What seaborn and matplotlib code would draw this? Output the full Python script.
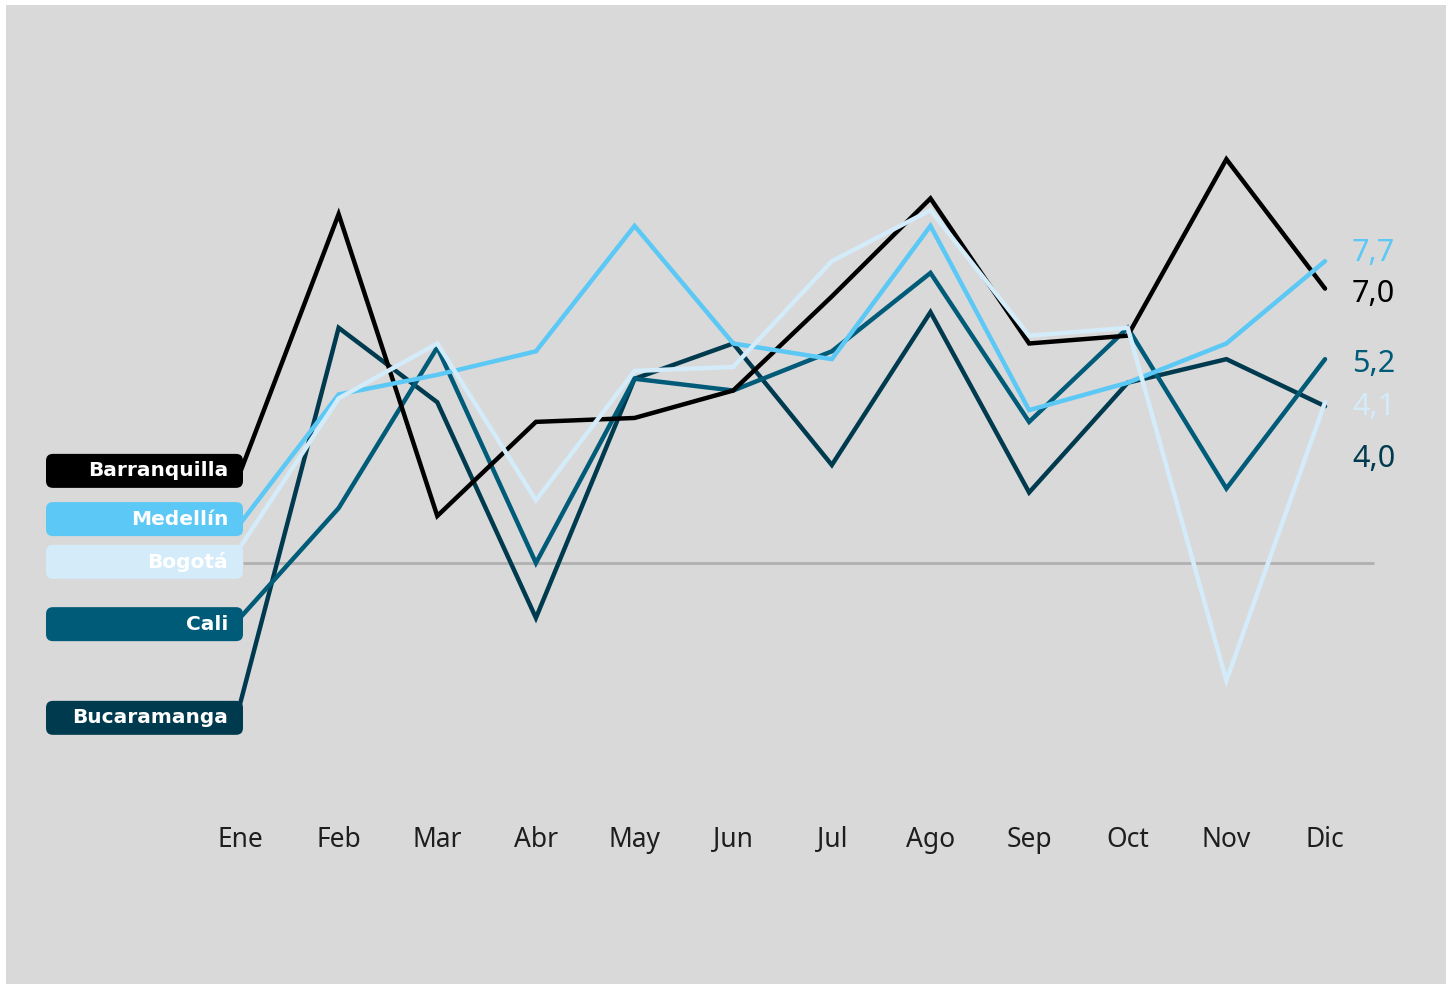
import numpy as np
import pandas as pd
import seaborn as sns
import matplotlib.pyplot as plt
from matplotlib.patches import FancyBboxPatch, Rectangle

# datos
meses = ["Ene", "Feb", "Mar", "Abr", "May", "Jun", "Jul", "Ago", "Sep", "Oct", "Nov", "Dic"]
barranquilla = [2.3, 8.9, 1.2, 3.6, 3.7, 4.4, 6.8, 9.3, 5.6, 5.8, 10.3, 7.0]
medellin = [1.0, 4.3, 4.8, 5.4, 8.6, 5.6, 5.2, 8.6, 3.9, 4.6, 5.6, 7.7]
bogota = [0.4, 4.2, 5.6, 1.6, 4.9, 5.0, 7.7, 9.0, 5.8, 6.0, -3.0, 4.1]
cali = [-1.4, 1.4, 5.5, 0.0, 4.7, 4.4, 5.4, 7.4, 3.6, 6.0, 1.9, 5.2]
bucaramanga = [-3.6, 6.0, 4.1, -1.4, 4.7, 5.6, 2.5, 6.4, 1.8, 4.6, 5.2, 4.0]

ciudades = ["Barranquilla", "Medellín", "Bogotá", "Cali", "Bucaramanga"]
valores = [barranquilla, medellin, bogota, cali, bucaramanga]
colores = {"Barranquilla": "#000000", "Medellín": "#5bc8f5", "Bogotá": "#d4ebfa",
           "Cali": "#005b78", "Bucaramanga": "#003a4f"}
orden = ["Bucaramanga", "Cali", "Barranquilla", "Medellín", "Bogotá"]

# posiciones de etiquetas (solo layout)
caja_y = {"Barranquilla": 2.35, "Medellín": 1.12, "Bogotá": 0.03, "Cali": -1.56, "Bucaramanga": -3.95}
final_y = {"Medellín": 7.9, "Barranquilla": 6.86, "Cali": 5.07, "Bogotá": 3.98, "Bucaramanga": 2.65}

df = pd.DataFrame({
    "mes": np.tile(np.arange(len(meses)), len(ciudades)),
    "valor": np.concatenate(valores),
    "ciudad": np.repeat(ciudades, len(meses)),
})

sns.set_style("white")
plt.rcParams["font.family"] = ["Noto Sans", "DejaVu Sans"]

W, H = 1450, 986
fig = plt.figure(figsize=(W / 100, H / 100), dpi=100, facecolor="white")
fondo = Rectangle((6 / W, 2 / H), 1440 / W, 979 / H, transform=fig.transFigure,
                  facecolor="#d9d9d9", edgecolor="none", zorder=-10)
fig.patches.append(fondo)

# ejes en pixeles: izq 6, der 1446, arriba 5, abajo 815
ax = fig.add_axes([6 / W, (H - 815) / H, 1440 / W, 810 / H])
ax.set_facecolor("none")
ax.set_zorder(1)
sx, sy = 98.64, 39.2
ax.set_xlim((6 - 240) / sx, (1446 - 240) / sx)
ax.set_ylim((563 - 815) / sy, (563 - 5) / sy)

ax.hlines(0, 0.03, 11.5, color="#b0b0b0", lw=2, zorder=1)

sns.lineplot(data=df, x="mes", y="valor", hue="ciudad", hue_order=orden,
             palette=colores, lw=3.2, legend=False, ax=ax, zorder=3,
             solid_capstyle="round", solid_joinstyle="miter")

# cajas con nombres
x0, x1 = (46 - 240) / sx, (243 - 240) / sx
h = 34 / sy
for c in ciudades:
    yc = caja_y[c]
    ax.add_patch(FancyBboxPatch((x0, yc - h / 2), x1 - x0, h,
                                boxstyle="round,pad=0,rounding_size=0.07",
                                mutation_aspect=sx / sy, facecolor=colores[c],
                                edgecolor="none", zorder=4))
    ax.text((228 - 240) / sx, yc, c, color="white", fontsize=14.5, fontweight="bold",
            family="DejaVu Sans", ha="right", va="center", zorder=5)

# valores finales
for c, v in zip(ciudades, valores):
    ax.text((1352 - 240) / sx, final_y[c], f"{v[-1]:.1f}".replace(".", ","),
            color=colores[c], fontsize=22, ha="left", va="center", zorder=5)

ax.set_xticks(range(len(meses)))
ax.set_xticklabels(meses, fontsize=19, color="#1e1e1e")
ax.tick_params(axis="x", length=0, pad=8)
ax.set_yticks([])
ax.set_xlabel("")
ax.set_ylabel("")
for s in ax.spines.values():
    s.set_visible(False)

fig.savefig("out.png", dpi=100, facecolor="white")
